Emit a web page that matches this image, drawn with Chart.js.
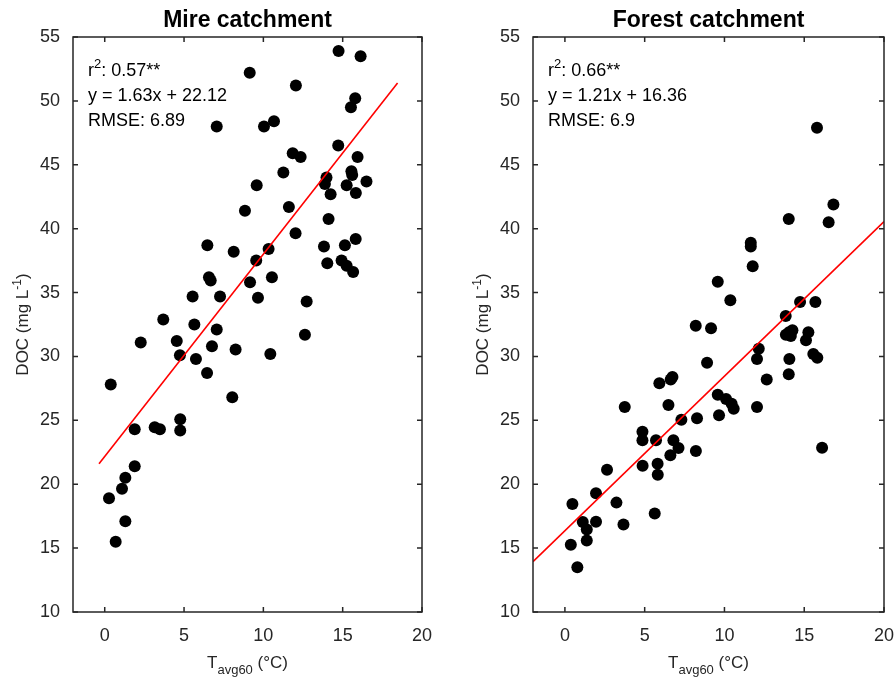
<!DOCTYPE html>
<html>
<head>
<meta charset="utf-8">
<script src="https://cdn.jsdelivr.net/npm/chart.js@4/dist/chart.umd.min.js"></script>
<style>
  html, body { margin: 0; padding: 0; background: #fff; }
  #wrap { position: relative; width: 896px; height: 682px; overflow: hidden; }
  .panel { position: absolute; top: 0; width: 448px; height: 682px; }
</style>
</head>
<body>
<div id="wrap">
  <div class="panel" style="left:0"><canvas id="mire"></canvas></div>
  <div class="panel" style="left:448px"><canvas id="forest"></canvas></div>
</div>
<script>
// ---------------- DATA ----------------
const xTicks = [0, 5, 10, 15, 20];
const yTicks = [10, 15, 20, 25, 30, 35, 40, 45, 50, 55];

// Mire catchment: T_avg60 (°C) and DOC (mg/L)
const mireT = [14.74, 16.13, 9.14, 12.05, 15.79, 15.52, 7.06, 10.04, 10.67, 14.72,
  11.85, 12.35, 15.94, 11.26, 15.55, 15.6, 13.98, 13.88, 15.25, 16.5,
  9.58, 14.24, 15.83, 8.84, 11.61, 14.11, 12.03, 15.82, 6.47, 8.13,
  10.33, 13.82, 15.14, 9.55, 14.03, 14.93, 15.25, 15.66, 6.57, 6.68,
  9.16, 10.54, 5.54, 7.27, 9.66, 12.73, 3.69, 5.65, 7.06, 12.62,
  2.27, 4.54, 6.76, 8.25, 4.74, 5.75, 10.44, 6.45, 0.38, 8.04,
  4.76, 4.76, 1.89, 3.15, 3.48, 1.89, 1.3, 1.09, 0.27, 1.3, 0.69];
const mireDOC = [53.9, 53.5, 52.2, 51.2, 50.2, 49.5, 48.0, 48.0, 48.4, 46.5,
  45.9, 45.6, 45.6, 44.4, 44.5, 44.2, 44.0, 43.5, 43.4, 43.7,
  43.4, 42.7, 42.8, 41.4, 41.7, 40.75, 39.65, 39.2, 38.7, 38.2,
  38.4, 38.6, 38.7, 37.5, 37.3, 37.5, 37.1, 36.6, 36.2, 35.95,
  35.8, 36.2, 34.7, 34.7, 34.6, 34.3, 32.9, 32.5, 32.1, 31.7,
  31.1, 31.2, 30.8, 30.55, 30.1, 29.8, 30.2, 28.7, 27.8, 26.8,
  25.08, 24.2, 24.3, 24.45, 24.3, 21.4, 20.5, 19.65, 18.9, 17.1, 15.5];
const mireFitT = [-0.36, 18.46];
const mireFitDOC = [21.6, 51.4];
const mireStats = ["0.57**", "y = 1.63x + 22.12", "RMSE: 6.89"];

// Forest catchment
const forestT = [15.8, 16.83, 16.53, 14.03, 11.65, 11.65, 11.77, 9.58, 10.37, 15.7,
  14.74, 13.84, 8.2, 9.16, 13.85, 14.05, 14.26, 14.16, 15.26, 15.11,
  12.15, 12.04, 15.57, 15.82, 14.07, 14.03, 12.65, 8.91, 6.74, 6.63,
  5.92, 9.58, 10.1, 10.45, 10.58, 12.04, 3.75, 6.49, 9.66, 8.28,
  7.3, 4.86, 4.86, 5.71, 6.8, 7.12, 8.21, 6.61, 16.12, 5.81,
  5.82, 4.87, 2.64, 1.95, 0.47, 3.23, 5.63, 1.12, 1.95, 3.67,
  1.37, 1.37, 0.37, 0.78];
const forestDOC = [47.9, 41.9, 40.5, 40.75, 38.9, 38.6, 37.05, 35.85, 34.4, 34.26,
  34.26, 33.16, 32.4, 32.2, 31.7, 31.9, 32.05, 31.6, 31.9, 31.26,
  30.6, 29.8, 30.2, 29.9, 29.8, 28.6, 28.2, 29.5, 28.4, 28.2,
  27.9, 27.0, 26.67, 26.3, 25.9, 26.04, 26.04, 26.2, 25.4, 25.16,
  25.05, 24.1, 23.44, 23.44, 23.44, 22.84, 22.6, 22.26, 22.86, 21.6,
  20.75, 21.44, 21.14, 19.3, 18.45, 18.56, 17.7, 17.04, 17.07, 16.84,
  16.45, 15.6, 15.27, 13.5];
const forestFitT = [-2, 20];
const forestFitDOC = [13.94, 40.56];
const forestStats = ["0.66**", "y = 1.21x + 16.36", "RMSE: 6.9"];

// ---------------- RENDERING ----------------
const FONT = '"Liberation Sans", Arial, Helvetica, sans-serif';
const INK = '#262626';

function drawRich(ctx, parts, x, y, align) {
  let total = 0;
  parts.forEach(p => {
    ctx.font = (p.weight || 'normal') + ' ' + p.size + 'px ' + FONT;
    p.w = ctx.measureText(p.t).width;
    total += p.w;
  });
  let cx = align === 'center' ? x - total / 2 : x;
  parts.forEach(p => {
    ctx.font = (p.weight || 'normal') + ' ' + p.size + 'px ' + FONT;
    ctx.textAlign = 'left';
    ctx.fillText(p.t, cx, y + (p.dy || 0));
    cx += p.w;
  });
}

const framePlugin = {
  id: 'frame',
  afterDatasetsDraw(chart) {
    const o = chart.options.plugins.frame;
    const ctx = chart.ctx;
    const ca = chart.chartArea;
    const xs = chart.scales.x, ys = chart.scales.y;
    ctx.save();
    ctx.strokeStyle = INK;
    ctx.fillStyle = INK;
    ctx.lineWidth = 1.5;
    ctx.strokeRect(ca.left, ca.top, ca.right - ca.left, ca.bottom - ca.top);
    const tl = 5;
    ctx.beginPath();
    xTicks.forEach(v => {
      const px = xs.getPixelForValue(v);
      ctx.moveTo(px, ca.bottom); ctx.lineTo(px, ca.bottom - tl);
      ctx.moveTo(px, ca.top); ctx.lineTo(px, ca.top + tl);
    });
    yTicks.forEach(v => {
      const py = ys.getPixelForValue(v);
      ctx.moveTo(ca.left, py); ctx.lineTo(ca.left + tl, py);
      ctx.moveTo(ca.right, py); ctx.lineTo(ca.right - tl, py);
    });
    ctx.stroke();

    // Title
    ctx.fillStyle = '#000';
    ctx.textBaseline = 'alphabetic';
    drawRich(ctx, [{t: o.title, size: 23, weight: 'bold'}], (ca.left + ca.right) / 2, 27, 'center');

    // Stats annotation
    ctx.fillStyle = '#000';
    const ax = ca.left + 15;
    drawRich(ctx, [{t: 'r', size: 18}, {t: '2', size: 13, dy: -8}, {t: ': ' + o.stats[0], size: 18}], ax, ca.top + 39, 'left');
    drawRich(ctx, [{t: o.stats[1], size: 18}], ax, ca.top + 64, 'left');
    drawRich(ctx, [{t: o.stats[2], size: 18}], ax, ca.top + 89, 'left');

    // X axis title
    ctx.fillStyle = INK;
    drawRich(ctx, [{t: 'T', size: 17}, {t: 'avg60', size: 13, dy: 6}, {t: ' (°C)', size: 17}],
      (ca.left + ca.right) / 2, 668, 'center');

    // Y axis title (rotated)
    ctx.translate(o.yTitleX, (ca.top + ca.bottom) / 2);
    ctx.rotate(-Math.PI / 2);
    drawRich(ctx, [{t: 'DOC (mg L', size: 17}, {t: '-1', size: 12, dy: -7}, {t: ')', size: 17}], 0, 6, 'center');
    ctx.restore();
  }
};

function makeChart(id, title, tVals, docVals, fitT, fitDOC, stats, axisWidth, padRight, yTitleX) {
  const pts = tVals.map((t, i) => ({x: t, y: docVals[i]}));
  const fit = fitT.map((t, i) => ({x: t, y: fitDOC[i]}));
  return new Chart(document.getElementById(id), {
    type: 'scatter',
    data: {
      datasets: [
        {
          type: 'line', data: fit, borderColor: '#ff0000', borderWidth: 1.6,
          pointRadius: 0, showLine: true, fill: false, order: 0
        },
        {
          data: pts, backgroundColor: '#000', borderColor: '#000',
          pointRadius: 6, pointBorderWidth: 0, order: 1
        }
      ]
    },
    options: {
      responsive: false,
      animation: false,
      devicePixelRatio: 1,
      layout: {padding: {left: 0, right: padRight, top: 37, bottom: 0}},
      plugins: {
        legend: {display: false},
        tooltip: {enabled: false},
        frame: {title: title, stats: stats, yTitleX: yTitleX}
      },
      scales: {
        x: {
          type: 'linear', min: -2, max: 20,
          afterBuildTicks: s => { s.ticks = xTicks.map(v => ({value: v})); },
          afterFit: s => { s.height = 70; s.paddingLeft = 0; s.paddingRight = 0; },
          grid: {display: false, drawTicks: false},
          border: {display: false},
          ticks: {color: INK, font: {family: FONT, size: 18}, padding: 13, maxRotation: 0, autoSkip: false}
        },
        y: {
          type: 'linear', min: 10, max: 55,
          afterBuildTicks: s => { s.ticks = yTicks.map(v => ({value: v})); },
          afterFit: s => { s.width = axisWidth; s.paddingTop = 0; s.paddingBottom = 0; },
          grid: {display: false, drawTicks: false},
          border: {display: false},
          ticks: {color: INK, font: {family: FONT, size: 18}, padding: 13, autoSkip: false}
        }
      }
    },
    plugins: [framePlugin]
  });
}

function sizeCanvas(id) {
  const c = document.getElementById(id);
  c.width = 448; c.height = 682;
  c.style.width = '448px'; c.style.height = '682px';
}
sizeCanvas('mire'); sizeCanvas('forest');

makeChart('mire', 'Mire catchment', mireT, mireDOC, mireFitT, mireFitDOC, mireStats, 73, 26, 22);
makeChart('forest', 'Forest catchment', forestT, forestDOC, forestFitT, forestFitDOC, forestStats, 85, 12, 34);
</script>
</body>
</html>
